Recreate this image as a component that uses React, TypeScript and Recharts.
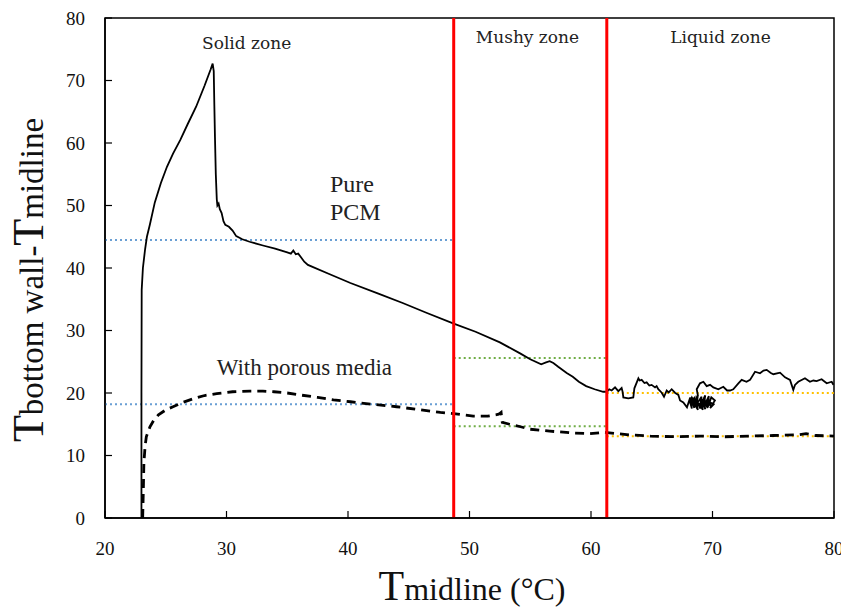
import React from 'react';
import { LineChart, Line, XAxis, YAxis, ReferenceLine, ReferenceArea, ReferenceDot, Label } from 'recharts';

// ---- data ----
const xTicks = [20, 30, 40, 50, 60, 70, 80];
const yTicks = [0, 10, 20, 30, 40, 50, 60, 70, 80];

const zoneBounds = [48.7, 61.3];
const solidZoneLevels = [44.5, 18.2];
const mushyZoneLevels = [25.6, 14.7];
const liquidZoneLevels = [20.0, 13.1];

const pureX = [
  23.0, 23.0, 23.02, 23.12, 23.3, 23.45, 23.7, 24.1, 24.6, 25.1, 25.6, 26.2, 26.8, 27.5, 28.2, 28.7, 28.86,
  28.95, 29.0, 29.05, 29.12, 29.2, 29.25, 29.35, 29.45, 29.6, 29.75, 29.9, 30.2, 30.5, 30.8, 31.3, 31.9,
  33.0, 34.0, 35.0, 35.3, 35.5, 35.7, 35.9, 36.1, 36.4, 36.7, 38.5, 40.2, 42.5, 44.5, 46.5, 48.7, 50.5,
  52.5, 54.2, 55.0, 55.9, 56.3, 56.6, 56.9, 57.3, 58.0, 58.5, 59.0, 59.6, 60.3, 61.0, 61.3,
  61.5, 61.7, 61.98, 62.25, 62.52, 62.6, 62.66, 63.07, 63.48, 63.57, 63.9, 64.0, 64.17, 64.4, 64.58, 64.8,
  64.99, 65.27, 65.4, 65.54, 65.82, 66.01, 66.23, 66.4, 66.64, 66.91, 67.19, 67.33,
  67.6, 67.9, 68.1, 68.3, 68.2, 68.5, 68.4, 68.8, 68.6, 69.0, 68.9, 69.2, 69.1, 69.4, 69.3, 69.6, 69.5,
  69.9, 69.7, 70.1, 69.8, 70.2, 69.9, 69.6, 69.7, 69.3, 69.4, 69.0, 69.1, 68.7, 68.8, 68.4, 68.5, 68.1,
  68.3, 68.6, 68.8, 68.7,
  68.97, 69.25, 69.52, 69.8, 70.07, 70.48, 70.89, 71.2, 71.44, 71.71, 72.13, 72.4, 72.8, 73.09, 73.5,
  73.91, 74.2, 74.46, 74.8, 75.01, 75.56, 75.97, 76.38, 76.65, 76.79, 77.06, 77.61, 78.02, 78.3, 78.57,
  78.98, 79.4, 79.81, 79.95,
];
const pureY = [
  0, 20, 36.5, 40, 43, 45, 47, 50.5, 53.6, 56.2, 58.3, 60.5, 63, 65.8, 69.2, 71.8, 72.7,
  71.5, 66, 61, 55, 51, 50, 50.3, 49.4, 48.8, 47.5, 46.9, 46.6, 46, 45.1, 44.6, 44.2,
  43.6, 43.1, 42.5, 42.3, 42.8, 42.2, 42.3, 41.8, 41.0, 40.5, 39.0, 37.6, 35.9, 34.4, 32.8, 31.1, 29.8,
  28.1, 26.3, 25.4, 24.6, 24.9, 25.1, 24.8, 24.2, 23.2, 22.6, 21.8, 21.1, 20.6, 20.2, 20.2,
  20.6, 20.4, 20.9, 20.3, 20.8, 20.2, 19.3, 19.15, 19.3, 20.75, 22.35, 22.0, 22.1, 21.6, 21.7, 21.2,
  21.3, 20.9, 21.1, 20.6, 20.05, 19.4, 20.4, 20.1, 20.6, 20.05, 19.7, 18.8,
  18.5, 17.7, 18.9, 17.5, 19.3, 17.6, 18.6, 17.3, 19.1, 17.5, 18.4, 17.3, 19.0, 17.4, 18.8, 17.6, 18.9,
  17.8, 18.6, 18.2, 17.6, 18.8, 19.3, 17.7, 19.5, 17.9, 19.6, 18.0, 19.4, 18.2, 19.7, 18.1, 19.2, 18.4,
  19.3, 18.3, 19.6, 20.6,
  21.55, 21.8, 21.1, 21.3, 20.9, 20.6, 21.0, 20.4, 20.4, 20.6, 21.55, 22.1, 21.8, 22.1, 23.4,
  23.15, 23.6, 23.7, 23.2, 23.0, 23.25, 22.5, 22.1, 20.5, 21.3, 21.8, 22.35, 21.8, 22.0, 21.9,
  22.2, 21.55, 21.8, 21.3,
];

const porousX = [
  23.1, 23.15, 23.2, 23.3, 23.4, 23.7, 24.0, 24.4, 25.0, 25.6, 26.4, 27.3, 28.2, 29.2, 30.5, 31.9, 33.0,
  33.9, 35.0, 36.0, 37.5, 38.8, 40.2, 42.0, 44.0, 46.0, 47.6, 48.7, 50.3, 51.5, 52.4, 52.6, 52.65, 52.7,
  53.3, 54.2, 55.0, 56.6, 58.5, 59.9, 61.15, 62.1, 63.2, 64.9, 67.0, 69.0, 71.0, 73.0, 75.0, 77.0, 77.7,
  78.5, 80.0,
];
const porousY = [
  0, 4, 8.8, 11.5, 13, 14.6, 15.6, 16.5, 17.3, 17.8, 18.5, 19.1, 19.6, 19.9, 20.2, 20.3, 20.3,
  20.2, 20.0, 19.7, 19.3, 18.9, 18.6, 18.2, 17.8, 17.3, 16.9, 16.7, 16.3, 16.3, 16.6, 16.9, 16.0, 15.3,
  15.0, 14.6, 14.2, 13.9, 13.6, 13.5, 13.7, 13.5, 13.3, 13.1, 13.0, 13.1, 13.0, 13.1, 13.2, 13.3, 13.5,
  13.2, 13.1,
];

const pureData = pureX.map((x, i) => ({ x, y: pureY[i] }));
const porousData = porousX.map((x, i) => ({ x, y: porousY[i] }));

const SERIF = '"Liberation Serif", "Times New Roman", serif';
const ZONE_FONT = '"DejaVu Serif", serif';

const annotations = [
  { text: 'Solid zone', x: 31.66, y: 75.0, anchor: 'middle', size: 17, font: ZONE_FONT },
  { text: 'Mushy zone', x: 54.77, y: 76.05, anchor: 'middle', size: 17, font: ZONE_FONT },
  { text: 'Liquid zone', x: 70.66, y: 76.05, anchor: 'middle', size: 17, font: ZONE_FONT },
  { text: 'Pure', x: 38.52, y: 52.2, anchor: 'start', size: 24, font: SERIF },
  { text: 'PCM', x: 38.52, y: 47.7, anchor: 'start', size: 24, font: SERIF },
  { text: 'With porous media', x: 29.19, y: 22.88, anchor: 'start', size: 23, font: SERIF },
];

const makeLabel = (a: any) => (props: any) => {
  const vb = props.viewBox || {};
  const cx = (vb.x ?? 0) + (vb.width ?? 0) / 2;
  const cy = (vb.y ?? 0) + (vb.height ?? 0) / 2;
  return (
    <text x={cx} y={cy} textAnchor={a.anchor} fontFamily={a.font} fontSize={a.size} fill="#222">
      {a.text}
    </text>
  );
};

const YTitle = (props: any) => {
  const vb = props.viewBox || {};
  const x = (vb.x ?? 0) + 43;
  const y = (vb.y ?? 0) + (vb.height ?? 0) / 2 + 12;
  return (
    <text x={x} y={y} transform={`rotate(-90, ${x}, ${y})`} textAnchor="middle" fontFamily={SERIF} fill="#111">
      <tspan fontSize={44}>T</tspan>
      <tspan fontSize={33}>bottom wall-</tspan>
      <tspan fontSize={44}>T</tspan>
      <tspan fontSize={33}>midline</tspan>
    </text>
  );
};

const XTitle = (props: any) => {
  const vb = props.viewBox || {};
  const x = (vb.x ?? 0) + (vb.width ?? 0) / 2 + 2.5;
  const y = (vb.y ?? 0) + 82;
  return (
    <text x={x} y={y} textAnchor="middle" fontFamily={SERIF} fill="#111">
      <tspan fontSize={42}>T</tspan>
      <tspan fontSize={32}>midline (°C)</tspan>
    </text>
  );
};

export default function App() {
  return (
    <div style={{ width: 849, height: 609, margin: '-8px 0 0 -8px' }}>
      <LineChart width={849} height={609} margin={{ top: 18, right: 15, left: 0, bottom: 61 }}>
        <XAxis
          type="number"
          dataKey="x"
          domain={[20, 80]}
          ticks={xTicks}
          allowDataOverflow
          height={30}
          stroke="#000"
          axisLine={{ stroke: '#000', strokeWidth: 1.5 }}
          tickLine={{ stroke: '#000', strokeWidth: 1.2 }}
          tickSize={-7}
          tickMargin={31}
          tick={{ fill: '#111', fontFamily: SERIF, fontSize: 19 }}
          interval={0}
        >
          <Label content={<XTitle />} />
        </XAxis>
        <YAxis
          type="number"
          domain={[0, 80]}
          ticks={yTicks}
          allowDataOverflow
          width={105}
          stroke="#000"
          axisLine={{ stroke: '#000', strokeWidth: 1.5 }}
          tickLine={{ stroke: '#000', strokeWidth: 1.2 }}
          tickSize={-7}
          tickMargin={27}
          tick={{ fill: '#111', fontFamily: SERIF, fontSize: 19 }}
          interval={0}
        >
          <Label content={<YTitle />} />
        </YAxis>

        <ReferenceArea x1={20} x2={80} y1={0} y2={80} fill="none" fillOpacity={0} stroke="#000" strokeWidth={1.5} />

        <ReferenceLine segment={[{ x: 20, y: solidZoneLevels[0] }, { x: zoneBounds[0], y: solidZoneLevels[0] }]} stroke="#6a9fd4" strokeWidth={2} strokeDasharray="2 3" />
        <ReferenceLine segment={[{ x: 20, y: solidZoneLevels[1] }, { x: zoneBounds[0], y: solidZoneLevels[1] }]} stroke="#6a9fd4" strokeWidth={2} strokeDasharray="2 3" />
        <ReferenceLine segment={[{ x: zoneBounds[0], y: mushyZoneLevels[0] }, { x: zoneBounds[1], y: mushyZoneLevels[0] }]} stroke="#70ad47" strokeWidth={2} strokeDasharray="2 3" />
        <ReferenceLine segment={[{ x: zoneBounds[0], y: mushyZoneLevels[1] }, { x: zoneBounds[1], y: mushyZoneLevels[1] }]} stroke="#70ad47" strokeWidth={2} strokeDasharray="2 3" />
        <ReferenceLine segment={[{ x: zoneBounds[1], y: liquidZoneLevels[0] }, { x: 80, y: liquidZoneLevels[0] }]} stroke="#ffc000" strokeWidth={2} strokeDasharray="2 3" />
        <ReferenceLine segment={[{ x: zoneBounds[1], y: liquidZoneLevels[1] }, { x: 80, y: liquidZoneLevels[1] }]} stroke="#ffc000" strokeWidth={2} strokeDasharray="2 3" />

        <Line data={pureData} dataKey="y" type="linear" dot={false} stroke="#000" strokeWidth={1.8} isAnimationActive={false} />
        <Line data={porousData} dataKey="y" type="linear" dot={false} stroke="#000" strokeWidth={2.8} strokeDasharray="9 6" isAnimationActive={false} />

        {zoneBounds.map((b) => (
          <ReferenceLine key={b} x={b} stroke="#ff0000" strokeWidth={3} />
        ))}

        {annotations.map((a) => (
          <ReferenceDot key={a.text} x={a.x} y={a.y} r={0} fill="none" stroke="none" label={makeLabel(a)} />
        ))}
      </LineChart>
    </div>
  );
}
